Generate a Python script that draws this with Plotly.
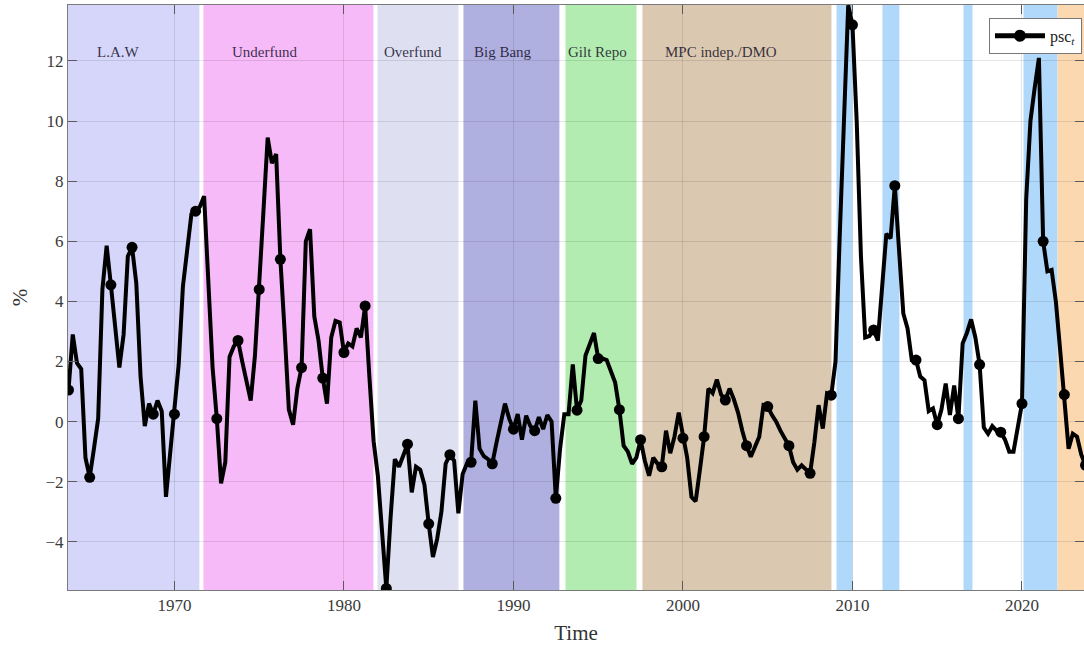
import numpy as np
import plotly.graph_objects as go

# Quarterly series, first observation 1963Q4 (1963.75)
start_year = 1963.75
psc = [
    1.05, 2.9, 1.95, 1.75, -1.2, -1.85, -0.9, 0.1, 4.4, 5.85,
    4.55, 3.0, 1.8, 2.9, 5.5, 5.8, 4.6, 1.5, -0.15, 0.6,
    0.25, 0.7, 0.35, -2.5, -1.0, 0.25, 1.9, 4.5, 5.8, 6.9,
    7.0, 7.15, 7.5, 4.4, 1.8, 0.1, -2.05, -1.35, 2.15, 2.5,
    2.7, 2.0, 1.3, 0.7, 2.2, 4.4, 7.0, 9.45, 8.6, 8.9,
    5.4, 3.0, 0.4, -0.1, 1.1, 1.8, 6.0, 6.4, 3.5, 2.7,
    1.45, 0.6, 2.8, 3.35, 3.3, 2.3, 2.6, 2.5, 3.1, 2.8,
    3.85, 1.5, -0.65, -1.8, -3.8, -5.55, -3.2, -1.25, -1.5, -1.1,
    -0.75, -2.35, -1.5, -1.6, -2.1, -3.4, -4.5, -3.9, -3.0, -1.4,
    -1.1, -1.3, -3.05, -1.75, -1.4, -1.35, 0.7, -0.9, -1.15, -1.25,
    -1.4, -0.7, 0.0, 0.6, 0.1, -0.25, 0.25, -0.6, 0.2, -0.15,
    -0.3, 0.15, -0.25, 0.22, 0.0, -2.55, -0.9, 0.25, 0.25, 1.9,
    0.38, 0.7, 2.2, 2.6, 2.95, 2.1, 2.1, 2.05, 1.7, 1.3,
    0.4, -0.8, -1.0, -1.4, -1.2, -0.6, -1.3, -1.8, -1.2, -1.4,
    -1.5, -0.3, -1.05, -0.5, 0.3, -0.55, -1.2, -2.5, -2.65, -1.6,
    -0.5, 1.1, 0.95, 1.4, 0.9, 0.72, 1.1, 0.75, 0.3, -0.3,
    -0.8, -1.17, -0.8, -0.5, 0.55, 0.5, 0.22, 0.0, -0.3, -0.55,
    -0.8, -1.35, -1.6, -1.45, -1.6, -1.72, -0.7, 0.55, -0.23, 0.94,
    0.88, 2.0, 6.2, 10.2, 13.85, 13.2, 10.0, 5.5, 2.8, 2.85,
    3.05, 2.7, 4.7, 6.25, 6.1, 7.85, 5.7, 3.6, 3.1, 2.05,
    2.05, 1.5, 1.38, 0.35, 0.44, -0.1, 0.4, 1.27, 0.22, 1.2,
    0.1, 2.6, 2.95, 3.4, 2.8, 1.9, -0.2, -0.4, -0.15, -0.3,
    -0.35, -0.6, -1.0, -1.0, -0.2, 0.6, 7.4, 10.0, 11.1, 12.1,
    6.0, 5.0, 5.05, 4.0, 2.4, 0.9, -0.9, -0.4, -0.5, -1.1,
    -1.45,
]
years = start_year + 0.25 * np.arange(len(psc))
marker_every = 5

# Policy regimes
regime_names = ["L.A.W", "Underfund", "Overfund", "Big Bang", "Gilt Repo", "MPC indep./DMO"]
regime_start = [1963.72, 1971.71, 1981.98, 1987.05, 1993.07, 1997.61]
regime_end = [1971.47, 1981.74, 1986.76, 1992.71, 1997.26, 2008.76]
regime_color = ["#d6d6fa", "#f6baf8", "#dee0f2", "#b0b0e0", "#b2ecb0", "#dac8b0"]
regime_label_x = [1965.3, 1973.25, 1982.27, 1987.58, 1993.1, 1998.85]

# QE episodes and QT period
qe_start = [2009.06, 2011.77, 2016.55, 2020.09]
qe_end = [2010.0, 2012.77, 2017.08, 2022.1]
qe_color = "#b0d8fa"
qt_start, qt_end = 2022.1, 2023.8
qt_color = "#fcd8b0"

FONT = "Liberation Serif"

shapes = []
for x0, x1, c in zip(regime_start, regime_end, regime_color):
    shapes.append(dict(type="rect", xref="x", yref="paper", x0=x0, x1=x1, y0=0, y1=1,
                       fillcolor=c, line=dict(width=0), layer="below"))
for x0, x1 in zip(qe_start, qe_end):
    shapes.append(dict(type="rect", xref="x", yref="paper", x0=x0, x1=x1, y0=0, y1=1,
                       fillcolor=qe_color, line=dict(width=0), layer="below"))
shapes.append(dict(type="rect", xref="x", yref="paper", x0=qt_start, x1=qt_end, y0=0, y1=1,
                   fillcolor=qt_color, line=dict(width=0), layer="below"))

annotations = []
for name, lx in zip(regime_names, regime_label_x):
    annotations.append(dict(x=lx, y=12.3, xref="x", yref="y", text=name, showarrow=False,
                            xanchor="left", yanchor="middle",
                            font=dict(family=FONT, size=15, color="rgba(20,15,40,0.85)")))

sizes = [11 if i % marker_every == 0 else 0 for i in range(len(psc))]

fig = go.Figure()
fig.add_trace(go.Scatter(
    x=years, y=psc, mode="lines+markers", name="psc<sub><i>t</i></sub>",
    line=dict(color="black", width=4),
    marker=dict(size=sizes, color="black", opacity=1, line=dict(width=0)),
))

axis_common = dict(
    showgrid=True, gridcolor="rgba(0,0,0,0.10)", gridwidth=1,
    zeroline=False, showline=True, linecolor="#7a7a7a", linewidth=1,
    mirror="ticks", ticks="inside", ticklen=9, tickcolor="#5a5a5a",
    tickfont=dict(family=FONT, size=17, color="#3a3a3a"),
)

fig.update_layout(
    width=1084, height=645,
    margin=dict(l=68, r=0, t=5, b=55),
    paper_bgcolor="white", plot_bgcolor="white",
    shapes=shapes, annotations=annotations,
    xaxis=dict(range=[1963.72, 2023.66], tickvals=[1970, 1980, 1990, 2000, 2010, 2020],
               title=dict(text="Time", font=dict(family=FONT, size=21, color="#333333"), standoff=10),
               **axis_common),
    yaxis=dict(range=[-5.6, 13.86], tickvals=[-4, -2, 0, 2, 4, 6, 8, 10, 12],
               title=dict(text="%", font=dict(family=FONT, size=21, color="#333333"), standoff=12),
               **axis_common),
    showlegend=True,
    legend=dict(x=0.998, y=0.978, xanchor="right", yanchor="top",
                bgcolor="white", bordercolor="#777777", borderwidth=1,
                font=dict(family=FONT, size=16, color="#222222"),
                itemsizing="constant", itemwidth=50, tracegroupgap=0),
)

fig.write_html("out.html")
